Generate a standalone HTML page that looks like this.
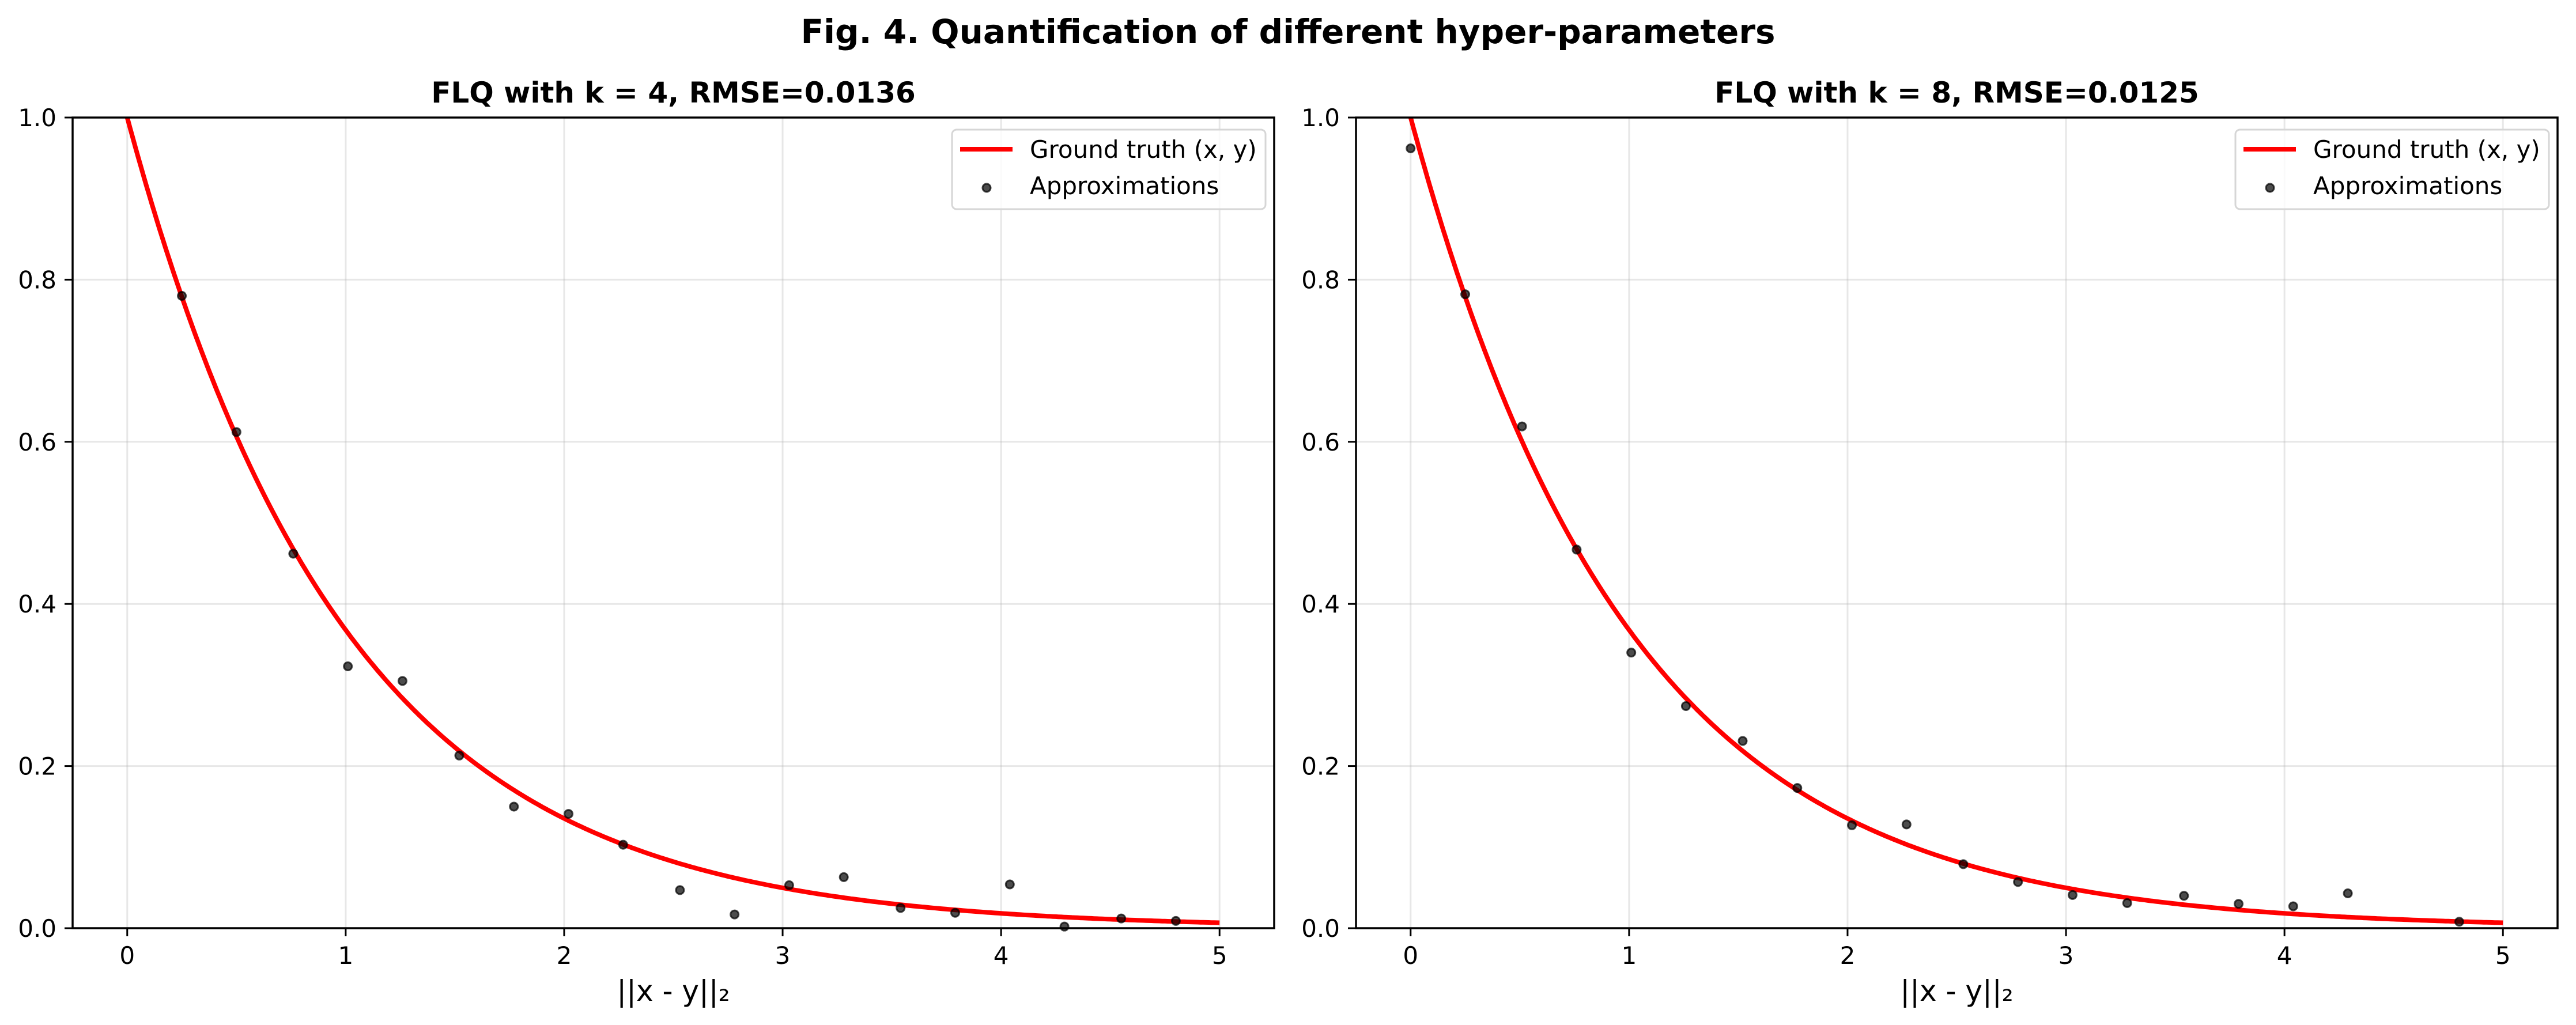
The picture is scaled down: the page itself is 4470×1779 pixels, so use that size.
<!DOCTYPE html>
<html><head><meta charset="utf-8"><style>
html,body{margin:0;padding:0;background:#fff;}
svg{display:block;font-family:"DejaVu Sans","Liberation Sans",sans-serif;}
</style></head><body>
<svg id="fig" width="4470" height="1779" viewBox="0 0 4470 1779" xmlns="http://www.w3.org/2000/svg">
<rect width="4470" height="1779" fill="#fff"/>
<text x="2235" y="75" font-size="58" font-weight="bold" text-anchor="middle">Fig. 4. Quantification of different hyper-parameters</text>
</svg>
<script>
const xTicks = [0, 1, 2, 3, 4, 5];
const yTicks = [0.0, 0.2, 0.4, 0.6, 0.8, 1.0];
const yTickLabels = ["0.0", "0.2", "0.4", "0.6", "0.8", "1.0"];
const titles = ["FLQ with k = 4, RMSE=0.0136", "FLQ with k = 8, RMSE=0.0125"];
const approxX1 = [0.25, 0.5, 0.76, 1.01, 1.26, 1.52, 1.77, 2.02, 2.27, 2.53, 2.78, 3.03, 3.28, 3.54, 3.79, 4.04, 4.29, 4.55, 4.80];
const approxY1 = [0.780, 0.612, 0.462, 0.323, 0.305, 0.213, 0.150, 0.141, 0.103, 0.047, 0.017, 0.053, 0.063, 0.025, 0.019, 0.054, 0.002, 0.012, 0.009];
const approxX2 = [0.0, 0.25, 0.51, 0.76, 1.01, 1.26, 1.52, 1.77, 2.02, 2.27, 2.53, 2.78, 3.03, 3.28, 3.54, 3.79, 4.04, 4.29, 4.80];
const approxY2 = [0.962, 0.782, 0.619, 0.467, 0.340, 0.274, 0.231, 0.173, 0.127, 0.128, 0.079, 0.057, 0.041, 0.031, 0.040, 0.030, 0.027, 0.043, 0.008];
const truthDecay = 1.0;

const NS = "http://www.w3.org/2000/svg";
const svgRoot = document.getElementById("fig");
function mk(tag, attrs, parent) {
  const e = document.createElementNS(NS, tag);
  for (const k in attrs) e.setAttribute(k, attrs[k]);
  (parent || svgRoot).appendChild(e);
  return e;
}
const panels = [
  {left: 126, ax: approxX1, ay: approxY1, title: titles[0]},
  {left: 2353, ax: approxX2, ay: approxY2, title: titles[1]}
];
const plotTop = 204, plotBottom = 1611, pw = 2085, xmin = -0.25, xmax = 5.25;
panels.forEach((p, i) => {
  const g = mk("g", {});
  
  
  const sx = v => p.left + (v - xmin) / (xmax - xmin) * pw;
  const sy = v => plotBottom - v * (plotBottom - plotTop);
  xTicks.forEach(t => {
    const l = mk("line", {x1: sx(t), x2: sx(t), y1: plotTop, y2: plotBottom, stroke: "#b0b0b0", "stroke-opacity": 0.3, "stroke-width": 3}, g);
    
    
  });
  yTicks.forEach(t => {
    const l = mk("line", {x1: p.left, x2: p.left + pw, y1: sy(t), y2: sy(t), stroke: "#b0b0b0", "stroke-opacity": 0.3, "stroke-width": 3}, g);
    
    
  });
  let d = "";
  for (let k = 0; k <= 400; k++) {
    const x = 5 * k / 400;
    d += (k ? "L" : "M") + sx(x).toFixed(1) + "," + sy(Math.exp(-truthDecay * x)).toFixed(1);
  }
  const clip = mk("clipPath", {id: "clip" + i}, g);
  mk("rect", {x: p.left, y: plotTop, width: pw, height: plotBottom - plotTop}, clip);
  const path = mk("path", {d: d, fill: "none", stroke: "#ff0000", "stroke-width": 8, "clip-path": "url(#clip" + i + ")"}, g);
  
  
  p.ax.forEach((x, j) => {
    const c = mk("circle", {cx: sx(x), cy: sy(p.ay[j]), r: 7, fill: "#000", "fill-opacity": 0.7, stroke: "#000", "stroke-opacity": 0.7, "stroke-width": 3}, g);
    
    
  });
  const fr = mk("rect", {x: p.left, y: plotTop, width: pw, height: plotBottom - plotTop, fill: "none", stroke: "#000", "stroke-width": 3.5}, g);
  
  
  xTicks.forEach(t => {
    mk("line", {x1: sx(t), x2: sx(t), y1: plotBottom, y2: plotBottom + 14, stroke: "#000", "stroke-width": 3}, g);
    const tx = mk("text", {x: sx(t), y: 1673, "font-size": 42, "text-anchor": "middle"}, g);
    tx.textContent = String(t);
    
    
  });
  yTicks.forEach((t, j) => {
    mk("line", {x1: p.left - 14, x2: p.left, y1: sy(t), y2: sy(t), stroke: "#000", "stroke-width": 3}, g);
    const tx = mk("text", {x: p.left - 28, y: sy(t) + 15, "font-size": 42, "text-anchor": "end"}, g);
    tx.textContent = yTickLabels[j];
    
    
  });
  const ti = mk("text", {x: p.left + pw / 2, y: 178, "font-size": 50, "font-weight": "bold", "text-anchor": "middle"}, g);
  ti.textContent = p.title;
  
  
  const xl = mk("text", {x: p.left + pw / 2, y: 1737, "font-size": 50, "text-anchor": "middle"}, g);
  xl.textContent = "||x - y||₂";
  
  
  const lg = mk("g", {}, g);
  
  
  const lx = p.left + pw - 559;
  mk("rect", {x: lx, y: 225, width: 544, height: 138, rx: 8, fill: "#fff", "fill-opacity": 0.8, stroke: "#d6d6d6", "stroke-width": 3}, lg);
  mk("line", {x1: lx + 14, x2: lx + 105, y1: 259, y2: 259, stroke: "#ff0000", "stroke-width": 8}, lg);
  const t1 = mk("text", {x: lx + 135, y: 274, "font-size": 42}, lg);
  t1.textContent = "Ground truth (x, y)";
  
  
  mk("circle", {cx: lx + 60, cy: 326, r: 7, fill: "#000", "fill-opacity": 0.7, stroke: "#000", "stroke-opacity": 0.7, "stroke-width": 3}, lg);
  const t2 = mk("text", {x: lx + 135, y: 337, "font-size": 42}, lg);
  t2.textContent = "Approximations";
  
  
});
</script>
</body></html>
